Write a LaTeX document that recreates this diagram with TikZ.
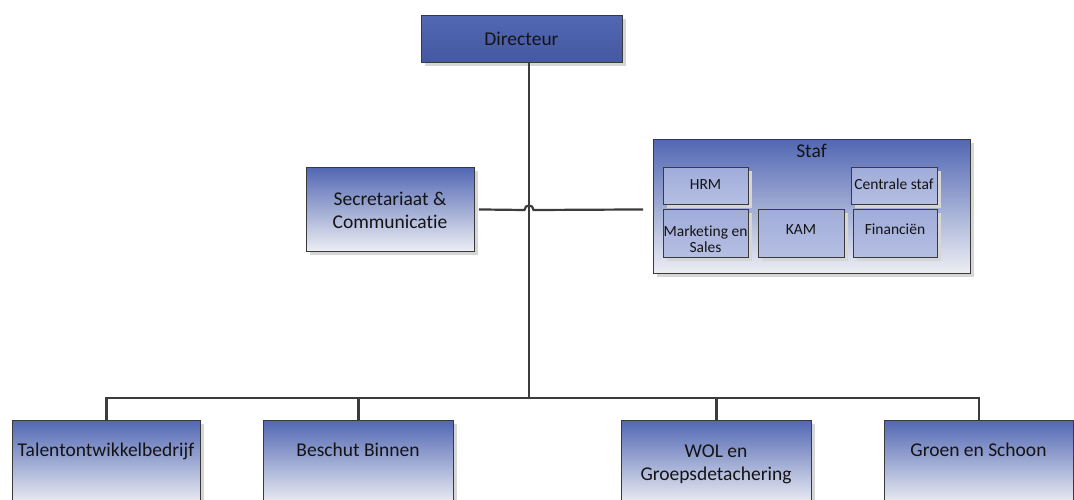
\documentclass[tikz,border=0pt]{standalone}
\usepackage{fontspec}
\setmainfont{Carlito}[Ligatures={NoCommon,NoContextual}]
\usetikzlibrary{shadows}
\definecolor{linec}{HTML}{3C3C3C}
\definecolor{boxtop}{HTML}{5267B3}
\definecolor{boxmid}{HTML}{8C99CD}
\definecolor{boxbot}{HTML}{EDEFF4}
\definecolor{dirtop}{HTML}{5268B2}
\definecolor{dirbot}{HTML}{4558A2}
\definecolor{subtop}{HTML}{A0ACD9}
\definecolor{subbot}{HTML}{B6BFE3}
\definecolor{boxline}{HTML}{3A3A3A}
\definecolor{txt}{HTML}{141414}
\tikzset{
  base/.style={draw=boxline, line width=0.9pt, anchor=north west, inner sep=0pt,
    drop shadow={shadow xshift=4pt, shadow yshift=-4pt, fill=black!16, opacity=1}},
  gradbox/.style={base, top color=boxtop, middle color=boxmid, bottom color=boxbot},
  dirbox/.style={base, top color=dirtop, bottom color=dirbot},
  subbox/.style={base, top color=subtop, bottom color=subbot},
  bigtxt/.style={text=txt, inner sep=0pt, font=\fontsize{19.5}{23.5}\selectfont},
  smalltxt/.style={text=txt, inner sep=0pt, font=\fontsize{15.5}{16}\selectfont},
  conn/.style={draw=linec, line width=2.2pt},
}
\begin{document}
\begin{tikzpicture}[x=1pt,y=-1pt]
\useasboundingbox (0,0) rectangle (1074,499);

% boxes
\node[dirbox, minimum width=201pt, minimum height=47pt] (dir) at (421,15) {};
\node[gradbox, minimum width=168pt, minimum height=84pt] (sec) at (306,167) {};
\node[gradbox, minimum width=317pt, minimum height=134pt] (staf) at (653,139) {};
\node[subbox, minimum width=85pt, minimum height=37pt] (hrm) at (663,167) {};
\node[subbox, minimum width=86pt, minimum height=37pt] (cen) at (851,167) {};
\node[subbox, minimum width=85pt, minimum height=48pt] (mkt) at (663,209) {};
\node[subbox, minimum width=86pt, minimum height=48pt] (kam) at (758,209) {};
\node[subbox, minimum width=84pt, minimum height=48pt] (fin) at (853,209) {};
\node[gradbox, minimum width=188pt, minimum height=84pt] (talent) at (12,420) {};
\node[gradbox, minimum width=190pt, minimum height=84pt] (besch) at (263,420) {};
\node[gradbox, minimum width=190pt, minimum height=84pt] (wol) at (621,420) {};
\node[gradbox, minimum width=189pt, minimum height=84pt] (groen) at (884,420) {};

% labels
\node[bigtxt, anchor=base] (dirL) at (521.5,45) {Directeur};
\node[bigtxt, align=center] (secL) at (390,210.3) {Secretariaat \&\\Communicatie};
\node[bigtxt, anchor=base] (stafL) at (811.5,157) {Staf};
\node[smalltxt, anchor=base] (hrmL) at (705.5,189.3) {HRM};
\node[smalltxt, anchor=base] (cenL) at (894,189.3) {Centrale staf};
\node[smalltxt, align=center] (mktL) at (705.5,238.9) {Marketing en\\Sales};
\node[smalltxt, anchor=base] (kamL) at (801,234.3) {KAM};
\node[smalltxt, anchor=base] (finL) at (895,234.3) {Financiën};
\node[bigtxt, anchor=base] (talentL) at (106,456) {Talentontwikkelbedrijf};
\node[bigtxt, anchor=base] (beschL) at (358,456) {Beschut Binnen};
\node[bigtxt, align=center] (wolL) at (716,464.1) {WOL en\\Groepsdetachering};
\node[bigtxt, anchor=base] (groenL) at (978.5,456) {Groen en Schoon};

% connectors
\coordinate (hub) at (529,398);
\coordinate (jl) at (524.5,210);
\coordinate (jr) at (533.5,210);
\draw[conn] (dir.south -| hub) -- (hub);
\draw[conn] (talent.north) |- (hub) -| (groen.north);
\draw[conn] (besch.north) -- (besch.north |- hub);
\draw[conn] (wol.north) -- (wol.north |- hub);
\draw[conn] ([xshift=4pt]sec.east) -- (jl) .. controls (524.5,204) and (533.5,204) .. (jr)
  -- ([xshift=-10pt]sec.east -| staf.west);
\end{tikzpicture}
\end{document}
